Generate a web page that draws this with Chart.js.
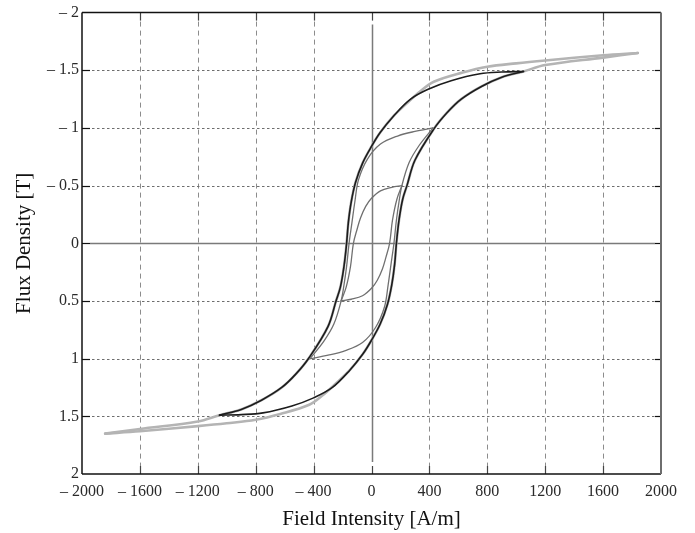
<!DOCTYPE html>
<html>
<head>
<meta charset="utf-8">
<script src="https://cdn.jsdelivr.net/npm/chart.js@4.4.1/dist/chart.umd.min.js"></script>
<style>
  html, body { margin: 0; padding: 0; background: #ffffff; }
  canvas { display: block; }
</style>
</head>
<body>
<canvas id="c" width="695" height="533"></canvas>
<script>
// ---- Axis ticks (values as printed on the reference axes) ----
const xTickValues = [-2000, -1600, -1200, -800, -400, 0, 400, 800, 1200, 1600, 2000];
const xTickLabels = ["– 2000", "– 1600", "– 1200", "– 800", "– 400", "0", "400", "800", "1200", "1600", "2000"];
const yTickValues = [-2, -1.5, -1, -0.5, 0, 0.5, 1, 1.5, 2];
const yTickLabels = ["– 2", "– 1.5", "– 1", "– 0.5", "0", "0.5", "1", "1.5", "2"];

// ---- Series: field intensity H [A/m] and flux density B [T] (B as read on the printed axis, which runs – 2 at top to 2 at bottom) ----
// Outer (light grey) loop, descending branch
const H_outer_desc = [1840, 1600, 1200, 1000, 800, 630, 430, 340, 250, 150, 60, 0, -60, -110, -140, -160, -172, -190, -215, -245, -300, -430, -520, -620, -760, -900, -1050, -1200, -1600, -1840];
const B_outer_desc = [-1.65, -1.63, -1.585, -1.56, -1.53, -1.48, -1.40, -1.32, -1.22, -1.10, -0.96, -0.84, -0.70, -0.53, -0.36, -0.18, 0, 0.2, 0.38, 0.5, 0.72, 0.99, 1.13, 1.25, 1.36, 1.44, 1.49, 1.545, 1.61, 1.65];
// Outer (light grey) loop, ascending branch
const H_outer_asc = [-1840, -1600, -1200, -1000, -800, -630, -430, -340, -250, -150, -60, 0, 60, 110, 140, 160, 172, 190, 215, 245, 300, 430, 520, 620, 760, 900, 1050, 1200, 1600, 1840];
const B_outer_asc = [1.65, 1.63, 1.585, 1.56, 1.53, 1.48, 1.40, 1.32, 1.22, 1.10, 0.96, 0.84, 0.70, 0.53, 0.36, 0.18, 0, -0.2, -0.38, -0.5, -0.72, -0.99, -1.13, -1.25, -1.36, -1.44, -1.49, -1.545, -1.61, -1.65];

// Black loop (peak 1.5 T)
const H_black_desc = [1050, 900, 750, 550, 400, 270, 150, 60, 0, -60, -110, -140, -160, -172, -190, -215, -245, -300, -430, -520, -620, -760, -900, -1050];
const B_black_desc = [-1.49, -1.485, -1.47, -1.41, -1.34, -1.25, -1.10, -0.96, -0.84, -0.70, -0.53, -0.36, -0.18, 0, 0.2, 0.38, 0.5, 0.72, 0.99, 1.13, 1.25, 1.36, 1.44, 1.49];
const H_black_asc = [-1050, -900, -750, -550, -400, -270, -150, -60, 0, 60, 110, 140, 160, 172, 190, 215, 245, 300, 430, 520, 620, 760, 900, 1050];
const B_black_asc = [1.49, 1.485, 1.47, 1.41, 1.34, 1.25, 1.10, 0.96, 0.84, 0.70, 0.53, 0.36, 0.18, 0, -0.2, -0.38, -0.5, -0.72, -0.99, -1.13, -1.25, -1.36, -1.44, -1.49];

// Grey loop (peak 1.0 T)
const H_mid_desc = [425, 300, 180, 62, -28, -90, -115, -135, -155, -172, -190, -210, -260, -330, -425];
const B_mid_desc = [-1.0, -0.97, -0.93, -0.86, -0.73, -0.55, -0.36, -0.18, 0, 0.2, 0.36, 0.5, 0.7, 0.85, 1.0];
const H_mid_asc = [-425, -300, -180, -62, 28, 90, 115, 135, 155, 172, 190, 210, 260, 330, 425];
const B_mid_asc = [1.0, 0.97, 0.93, 0.86, 0.73, 0.55, 0.36, 0.18, 0, -0.2, -0.36, -0.5, -0.7, -0.85, -1.0];

// Grey loop (peak 0.5 T)
const H_small_desc = [210, 140, 62, 0, -40, -76, -100, -125, -145, -175, -210];
const B_small_desc = [-0.5, -0.485, -0.455, -0.39, -0.32, -0.22, -0.12, 0, 0.2, 0.38, 0.5];
const H_small_asc = [-210, -140, -62, 0, 40, 76, 100, 125, 145, 175, 210];
const B_small_asc = [0.5, 0.485, 0.455, 0.39, 0.32, 0.22, 0.12, 0, -0.2, -0.38, -0.5];

// ---- build datasets ----
function pts(H, B) { return H.map((h, i) => ({ x: h, y: B[i] })); }
function branch(H, B, color, width) {
  return {
    data: pts(H, B), showLine: true, borderColor: color, borderWidth: width,
    pointRadius: 0, tension: 0.35, fill: false, borderCapStyle: 'round', borderJoinStyle: 'round'
  };
}
const SMALL = '#707070', BLACK = '#1c1c1c', LIGHT = '#b4b4b4';
const datasets = [
  branch(H_small_desc, B_small_desc, SMALL, 1.3),
  branch(H_small_asc, B_small_asc, SMALL, 1.3),
  branch(H_mid_desc, B_mid_desc, SMALL, 1.3),
  branch(H_mid_asc, B_mid_asc, SMALL, 1.3),
  branch(H_black_desc, B_black_desc, BLACK, 1.6),
  branch(H_black_asc, B_black_asc, BLACK, 1.6),
  branch(H_outer_desc, B_outer_desc, LIGHT, 2.6),
  branch(H_outer_asc, B_outer_asc, LIGHT, 2.6)
];

const FONT = "'Liberation Serif', 'Times New Roman', serif";

function line(ctx, x1, y1, x2, y2) { ctx.beginPath(); ctx.moveTo(x1, y1); ctx.lineTo(x2, y2); ctx.stroke(); }

const framePlugin = {
  id: 'frame',
  beforeDatasetsDraw(chart) {
    const { ctx, chartArea: a, scales: { x, y } } = chart;
    ctx.save();
    // vertical dashed grid
    ctx.strokeStyle = '#8c8c8c'; ctx.lineWidth = 1; ctx.setLineDash([5, 4]);
    xTickValues.forEach((v, i) => {
      if (i === 0 || i === xTickValues.length - 1 || v === 0) return;
      const px = Math.round(x.getPixelForValue(v)) + 0.5;
      line(ctx, px, a.top, px, a.bottom);
    });
    // horizontal dotted grid
    ctx.strokeStyle = '#6e6e6e'; ctx.lineWidth = 1.2; ctx.setLineDash([2.5, 2.5]);
    yTickValues.forEach((v, i) => {
      if (i === 0 || i === yTickValues.length - 1 || v === 0) return;
      const py = Math.round(y.getPixelForValue(v)) + 0.5;
      line(ctx, a.left, py, a.right, py);
    });
    // zero lines
    ctx.setLineDash([]); ctx.strokeStyle = '#7a7a7a'; ctx.lineWidth = 1.5;
    const y0 = Math.round(y.getPixelForValue(0)) + 0.5;
    const x0 = Math.round(x.getPixelForValue(0)) + 0.5;
    line(ctx, a.left + 8, y0, a.right - 6, y0);
    line(ctx, x0, a.top + 12, x0, a.bottom - 12);
    ctx.restore();
  },
  afterDatasetsDraw(chart) {
    const { ctx, chartArea: a, scales: { x, y } } = chart;
    ctx.save();
    ctx.setLineDash([]);
    // inward ticks
    ctx.lineWidth = 1.2;
    yTickValues.forEach((v, i) => {
      if (i === 0 || i === yTickValues.length - 1) return;
      const py = Math.round(y.getPixelForValue(v)) + 0.5;
      ctx.strokeStyle = '#111'; line(ctx, a.left, py, a.left + 8, py);
      line(ctx, a.right - 6, py, a.right, py);
    });
    xTickValues.forEach((v, i) => {
      if (i === 0 || i === xTickValues.length - 1) return;
      const px = Math.round(x.getPixelForValue(v)) + 0.5;
      ctx.strokeStyle = '#444'; line(ctx, px, a.top, px, a.top + 8);
      line(ctx, px, a.bottom - 8, px, a.bottom);
    });
    // frame
    ctx.strokeStyle = '#111'; ctx.lineWidth = 1.5;
    line(ctx, a.left, a.top, a.right, a.top);
    line(ctx, a.left, a.top, a.left, a.bottom);
    line(ctx, a.left, a.bottom, a.right, a.bottom);
    ctx.strokeStyle = '#6e6e6e'; ctx.lineWidth = 2;
    line(ctx, a.right, a.top, a.right, a.bottom);
    ctx.restore();
  }
};

new Chart(document.getElementById('c'), {
  type: 'scatter',
  data: { datasets },
  plugins: [framePlugin],
  options: {
    responsive: false,
    devicePixelRatio: 1,
    animation: false,
    events: [],
    layout: { padding: { top: 10, right: 34, left: 0, bottom: 0 } },
    plugins: { legend: { display: false }, tooltip: { enabled: false } },
    scales: {
      x: {
        type: 'linear', min: -2000, max: 2000,
        afterBuildTicks: s => { s.ticks = xTickValues.map(v => ({ value: v })); },
        afterFit: s => { s.height = 59; },
        grid: { display: false, drawTicks: false },
        border: { display: false },
        ticks: {
          autoSkip: false, maxRotation: 0, minRotation: 0, padding: 8,
          color: '#2a2a2a', font: { family: FONT, size: 16 },
          callback: (v) => { const i = xTickValues.indexOf(v); return i >= 0 ? xTickLabels[i] : ''; }
        },
        title: { display: true, text: 'Field Intensity [A/m]', color: '#111', font: { family: FONT, size: 21 }, padding: { top: 0, bottom: 1 } }
      },
      y: {
        type: 'linear', min: -2, max: 2, reverse: true,
        afterBuildTicks: s => { s.ticks = yTickValues.map(v => ({ value: v })); },
        afterFit: s => { s.width = 82; },
        grid: { display: false, drawTicks: false },
        border: { display: false },
        ticks: {
          autoSkip: false, padding: 3,
          color: '#2a2a2a', font: { family: FONT, size: 16 },
          callback: (v) => { const i = yTickValues.indexOf(v); return i >= 0 ? yTickLabels[i] : ''; }
        },
        title: { display: true, text: 'Flux Density [T]', color: '#111', font: { family: FONT, size: 21 }, padding: { top: 12, bottom: 0 } }
      }
    }
  }
});
</script>
</body>
</html>
